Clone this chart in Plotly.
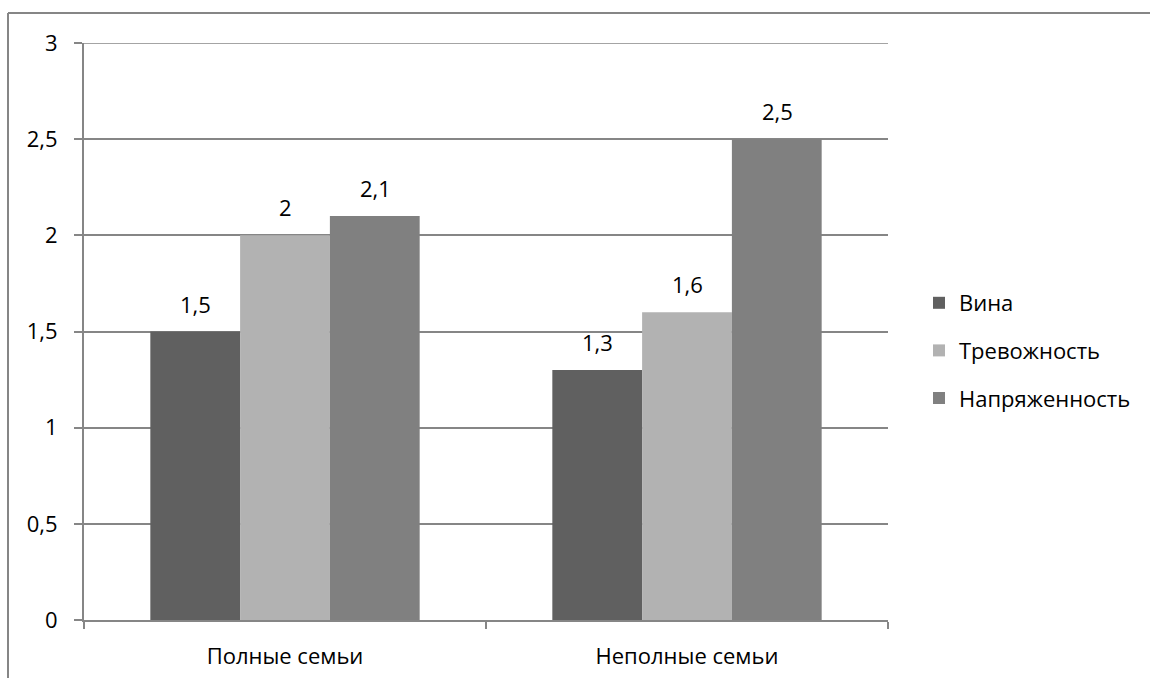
import plotly.graph_objects as go

categories = ["Полные семьи", "Неполные семьи"]
series_names = ["Вина", "Тревожность", "Напряженность"]
vina = [1.5, 1.3]
trevozhnost = [2.0, 1.6]
napryazhennost = [2.1, 2.5]
series_values = [vina, trevozhnost, napryazhennost]
colors = ["#606060", "#b2b2b2", "#808080"]
y_ticks = [0, 0.5, 1, 1.5, 2, 2.5, 3]

W, H = 1150, 678
ML, MR, MT, MB = 84, 262, 43, 58
PW = W - ML - MR
PH = H - MT - MB

FONT = "Open Sans"
FS = 22
TXT = "#000000"
GRID = "#868686"


def fmt(v):
    return f"{v:g}".replace(".", ",")


fig = go.Figure()
for i, (name, vals, col) in enumerate(zip(series_names, series_values, colors)):
    fig.add_trace(go.Bar(
        name=name, x=categories, y=vals,
        marker=dict(color=col, line=dict(width=0)),
        offsetgroup=str(i), legendgroup=str(i),
    ))

# value labels above each bar
n = len(series_names)
for i, vals in enumerate(series_values):
    for c, v in zip(categories, vals):
        fig.add_annotation(
            x=c, y=v, text=fmt(v), showarrow=False,
            xref="x", yref="y", yanchor="bottom",
            xshift=(i - (n - 1) / 2) * 90, yshift=11,
            font=dict(family=FONT, size=FS, color=TXT),
        )


def px_x(p):
    return (p - ML) / PW


def px_y(p):
    return 1 - (p - MT) / PH


# outer frame: top and left edges
frame = dict(type="line", xref="paper", yref="paper",
             line=dict(color="#868686", width=2), layer="below")
fig.add_shape(**frame, x0=px_x(8), x1=px_x(W + 5), y0=px_y(13), y1=px_y(13))
fig.add_shape(**frame, x0=px_x(8), x1=px_x(8), y0=px_y(13), y1=px_y(H + 5))
# top gridline at the range maximum
fig.add_shape(type="line", xref="paper", yref="y", x0=0, x1=1,
              y0=y_ticks[-1], y1=y_ticks[-1],
              line=dict(color=GRID, width=1.5), layer="below")

fig.update_layout(
    width=W, height=H,
    margin=dict(l=ML, r=MR, t=MT, b=MB, autoexpand=False),
    paper_bgcolor="white", plot_bgcolor="white",
    separators=", ",
    barmode="group",
    bargap=0.33, bargroupgap=0,
    font=dict(family=FONT, size=FS, color=TXT),
    legend=dict(
        x=px_x(919), y=px_y(282), xanchor="left", yanchor="top",
        font=dict(family=FONT, size=FS, color=TXT),
        itemwidth=30, tracegroupgap=16, traceorder="grouped",
        bgcolor="rgba(0,0,0,0)",
    ),
    xaxis=dict(
        showline=True, linecolor=GRID, linewidth=2,
        ticks="outside", ticklen=7, tickcolor=GRID, tickwidth=2,
        tickson="boundaries", showgrid=False,
        ticklabelstandoff=16,
        tickfont=dict(family=FONT, size=FS, color=TXT),
    ),
    yaxis=dict(
        range=[0, 3], tickvals=y_ticks,
        ticktext=[fmt(v) for v in y_ticks],
        showline=True, linecolor=GRID, linewidth=2,
        ticks="outside", ticklen=8, tickcolor=GRID, tickwidth=2,
        showgrid=True, gridcolor=GRID, gridwidth=1.5,
        zeroline=False,
        ticklabelstandoff=12,
        tickfont=dict(family=FONT, size=FS, color=TXT),
    ),
)

fig.write_html("out.html")
